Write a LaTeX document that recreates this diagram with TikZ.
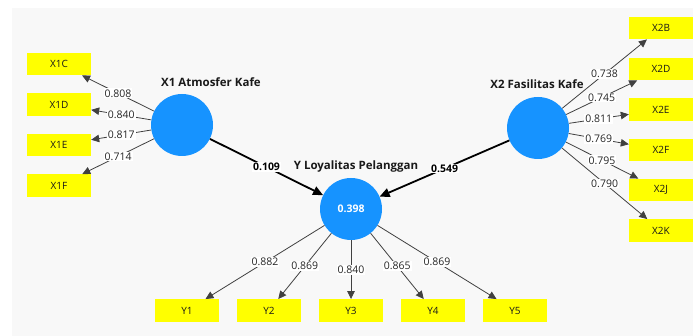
\documentclass[tikz,border=0pt]{standalone}
\usepackage{fontspec}
\setmainfont{Open Sans}
\usetikzlibrary{arrows.meta}
\definecolor{lvblue}{RGB}{22,147,255}
\definecolor{indyellow}{RGB}{255,255,0}
\definecolor{canvas}{RGB}{248,248,248}
\tikzset{
  ind/.style={fill=indyellow, minimum width=64pt, minimum height=22.5pt, inner sep=0pt,
    font=\fontsize{10}{12}\selectfont, text=black!90},
  lv/.style={circle, fill=lvblue, minimum size=62pt, inner sep=0pt},
  lvtitle/.style={font=\bfseries\fontsize{11.5}{13}\selectfont, text=black!90},
  load/.style={draw=black!75, line width=0.8pt, -{Triangle[length=8pt,width=7.5pt]}},
  path/.style={draw=black, line width=1.8pt, -{Triangle[length=10pt,width=9pt]}},
  wt/.style={fill=white, inner sep=1pt, font=\fontsize{10.5}{12}\selectfont, text=black!85},
  pwt/.style={fill=white, inner sep=1pt, font=\bfseries\fontsize{10.5}{12}\selectfont, text=black}
}
\begin{document}
\begin{tikzpicture}[x=1pt,y=-1pt]
\fill[white] (0,0) rectangle (698,336);
\fill[canvas] (12,8) rectangle (693,336);
\useasboundingbox (0,0) rectangle (698,336);

% latent variables
\node[lv] (x1) at (182,125) {};
\node[lv] (x2) at (538,128) {};
\node[lv, font=\bfseries\fontsize{10.5}{12}\selectfont, text=white] (y) at (351,209) {0.398};
\node[lvtitle] (t1) at (211,82) {X1 Atmosfer Kafe};
\node[lvtitle] (t2) at (537,84) {X2 Fasilitas Kafe};
\node[lvtitle] (ty) at (356,167) {Y Loyalitas Pelanggan};

% indicators of X1
\node[ind] (x1c) at (59,64) {X1C};
\node[ind] (x1d) at (59,104.5) {X1D};
\node[ind] (x1e) at (59,145) {X1E};
\node[ind] (x1f) at (59,185.5) {X1F};

% indicators of X2
\node[ind] (x2b) at (661,28) {X2B};
\node[ind] (x2d) at (661,69) {X2D};
\node[ind] (x2e) at (661,109.5) {X2E};
\node[ind] (x2f) at (661,150) {X2F};
\node[ind] (x2j) at (661,190) {X2J};
\node[ind] (x2k) at (661,230.5) {X2K};

% indicators of Y
\node[ind] (y1) at (187,310.5) {Y1};
\node[ind] (y2) at (269,310.5) {Y2};
\node[ind] (y3) at (351,310.5) {Y3};
\node[ind] (y4) at (433,310.5) {Y4};
\node[ind] (y5) at (515,310.5) {Y5};

% outer loadings
\draw[load] (x1) -- node[wt]{0.808} (x1c);
\draw[load] (x1) -- node[wt]{0.840} (x1d);
\draw[load] (x1) -- node[wt]{0.817} (x1e);
\draw[load] (x1) -- node[wt]{0.714} (x1f);

\draw[load] (x2) -- node[wt]{0.738} (x2b);
\draw[load] (x2) -- node[wt]{0.745} (x2d);
\draw[load] (x2) -- node[wt]{0.811} (x2e);
\draw[load] (x2) -- node[wt]{0.769} (x2f);
\draw[load] (x2) -- node[wt]{0.795} (x2j);
\draw[load] (x2) -- node[wt]{0.790} (x2k);

\draw[load] (y) -- node[wt]{0.882} (y1);
\draw[load] (y) -- node[wt]{0.869} (y2);
\draw[load] (y) -- node[wt]{0.840} (y3);
\draw[load] (y) -- node[wt]{0.865} (y4);
\draw[load] (y) -- node[wt]{0.869} (y5);

% path coefficients
\draw[path] (x1) -- node[pwt]{0.109} (y);
\draw[path] (x2) -- node[pwt]{0.549} (y);
\end{tikzpicture}
\end{document}
